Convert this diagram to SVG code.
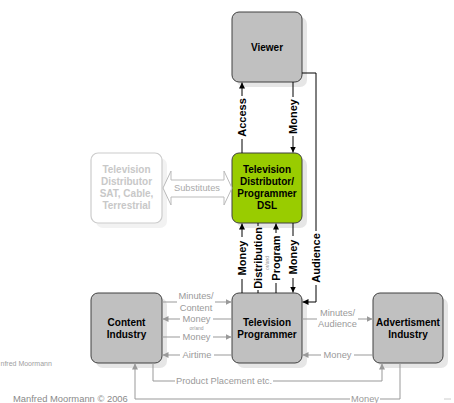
<svg xmlns="http://www.w3.org/2000/svg" width="454" height="403" viewBox="0 0 454 403">
<style>
.sh{fill:#e6e6e6}
.bx{fill:#c0c0c0;stroke:#404040;stroke-width:1}
.gr{fill:#99cc00;stroke:#404040;stroke-width:1}
.gh{fill:#ffffff;stroke:#cccccc;stroke-width:1.2}
.t{font-family:"Liberation Sans",Arial,sans-serif;font-size:10px;font-weight:bold;fill:#000;text-anchor:middle}
.tg{font-family:"Liberation Sans",Arial,sans-serif;font-size:10px;font-weight:bold;fill:#c8c8c8;text-anchor:middle}
.vl{font-family:"Liberation Sans",Arial,sans-serif;font-size:11px;font-weight:bold;fill:#000;text-anchor:middle}
.hl{font-family:"Liberation Sans",Arial,sans-serif;font-size:9.3px;fill:#9a9a9a;text-anchor:middle}
.tiny{font-family:"Liberation Sans",Arial,sans-serif;font-size:5px;fill:#999;text-anchor:middle}
.bk{fill:none;stroke:#000;stroke-width:1}
.gy{fill:none;stroke:#999;stroke-width:1}
</style>
<defs>
<marker id="ab" markerUnits="userSpaceOnUse" markerWidth="6" markerHeight="6" refX="6" refY="3" orient="auto"><path d="M0,0 L6,3 L0,6 z" fill="#000"/></marker>
<marker id="ag" markerUnits="userSpaceOnUse" markerWidth="6" markerHeight="6" refX="6" refY="3" orient="auto"><path d="M0,0 L6,3 L0,6 z" fill="#999"/></marker>
</defs>

<g id="viewer">
<rect class="sh" x="237" y="17" width="70" height="70" rx="7"/>
<rect class="bx" x="232" y="12" width="70" height="70" rx="7"/>
<text class="t" x="267" y="50.5">Viewer</text>
</g>

<g id="distributor-dsl">
<rect class="sh" x="237" y="158" width="70" height="70" rx="7"/>
<rect class="gr" x="232" y="153" width="70" height="70" rx="7"/>
<text class="t" x="267" y="172.6">Television</text>
<text class="t" x="267" y="184.6">Distributor/</text>
<text class="t" x="267" y="196.6">Programmer</text>
<text class="t" x="267" y="208.6">DSL</text>
</g>

<g id="distributor-sat">
<rect class="sh" x="96" y="158" width="71" height="70" rx="7" style="fill:#f2f2f2"/>
<rect class="gh" x="91" y="153" width="71" height="70" rx="7"/>
<text class="tg" x="126.5" y="172.6">Television</text>
<text class="tg" x="126.5" y="184.6">Distributor</text>
<text class="tg" x="126.5" y="196.6">SAT, Cable,</text>
<text class="tg" x="126.5" y="208.6">Terrestrial</text>
</g>

<g id="content-industry">
<rect class="sh" x="96" y="298" width="71" height="70" rx="7"/>
<rect class="bx" x="91" y="293" width="71" height="70" rx="7"/>
<text class="t" x="126.5" y="325.6">Content</text>
<text class="t" x="126.5" y="337.6">Industry</text>
</g>

<g id="tv-programmer">
<rect class="sh" x="237" y="298" width="70" height="70" rx="7"/>
<rect class="bx" x="232" y="293" width="70" height="70" rx="7"/>
<text class="t" x="267" y="325.6">Television</text>
<text class="t" x="267" y="337.6">Programmer</text>
</g>

<g id="advertisment-industry">
<rect class="sh" x="378" y="298" width="70" height="70" rx="7"/>
<rect class="bx" x="373" y="293" width="70" height="70" rx="7"/>
<text class="t" x="408" y="325.6">Advertisment</text>
<text class="t" x="408" y="337.6">Industry</text>
</g>

<g id="connectors">
<!-- Substitutes double arrow -->
<polygon points="163,188 171,171 171,180 224,180 224,171 232,188 224,205 224,197 171,197 171,205" fill="#fff" stroke="#bbbbbb" stroke-width="1"/>
<text class="hl" x="197" y="191.3" style="fill:#aaa">Substitutes</text>

<!-- Access -->
<path class="bk" d="M242,153 V139"/>
<path class="bk" d="M242,96 V82.5" marker-end="url(#ab)"/>
<text class="vl" transform="translate(242,117.5) rotate(-90)" dy="4">Access</text>
<!-- Money viewer -> distributor -->
<path class="bk" d="M293,82 V97"/>
<path class="bk" d="M293,136 V152.5" marker-end="url(#ab)"/>
<text class="vl" transform="translate(293,116.5) rotate(-90)" dy="4">Money</text>
<!-- Audience -->
<path class="bk" d="M302,73 H316 V231"/>
<path class="bk" d="M316,285 V302 H302.5" marker-end="url(#ab)"/>
<text class="vl" transform="translate(316,258) rotate(-90)" dy="4">Audience</text>

<!-- Money up (programmer -> distributor) -->
<path class="bk" d="M242,293 V279"/>
<path class="bk" d="M242,237 V223.5" marker-end="url(#ab)"/>
<text class="vl" transform="translate(242,258) rotate(-90)" dy="4">Money</text>
<!-- Distribution -->
<path class="bk" d="M258,223 V226"/>
<path class="bk" d="M258,290 V293"/>
<text class="vl" transform="translate(258,258) rotate(-90)" dy="4">Distribution</text>
<text class="tiny" transform="translate(267,263) rotate(-90)" dy="1.8">or/and</text>
<!-- Program -->
<path class="bk" d="M276,293 V283"/>
<path class="bk" d="M276,233 V223.5" marker-end="url(#ab)"/>
<text class="vl" transform="translate(276,258) rotate(-90)" dy="4">Program</text>
<!-- Money down -->
<path class="bk" d="M293,223 V236"/>
<path class="bk" d="M293,278 V292.5" marker-end="url(#ab)"/>
<text class="vl" transform="translate(293,257) rotate(-90)" dy="4">Money</text>

<!-- Minutes/Content -->
<path class="gy" d="M162,302 H177"/>
<path class="gy" d="M215,302 H231.5" marker-end="url(#ag)"/>
<text class="hl" x="196" y="299.3">Minutes/</text>
<text class="hl" x="196" y="310.8">Content</text>
<!-- Money left -->
<path class="gy" d="M232,319 H213"/>
<path class="gy" d="M180,319 H162.5" marker-end="url(#ag)"/>
<text class="hl" x="196.5" y="322.3">Money</text>
<text class="tiny" x="196.5" y="329.8">or/and</text>
<!-- Money right -->
<path class="gy" d="M162,337 H180"/>
<path class="gy" d="M213,337 H231.5" marker-end="url(#ag)"/>
<text class="hl" x="196.5" y="340.3">Money</text>
<!-- Airtime -->
<path class="gy" d="M232,355 H214"/>
<path class="gy" d="M180,355 H162.5" marker-end="url(#ag)"/>
<text class="hl" x="197" y="358.3">Airtime</text>
<!-- Minutes/Audience -->
<path class="gy" d="M302,319 H317"/>
<path class="gy" d="M358,319 H372.5" marker-end="url(#ag)"/>
<text class="hl" x="337.5" y="316.3">Minutes/</text>
<text class="hl" x="337.5" y="327.3">Audience</text>
<!-- Money advert -> programmer -->
<path class="gy" d="M373,355 H354"/>
<path class="gy" d="M321,355 H302.5" marker-end="url(#ag)"/>
<text class="hl" x="337.5" y="358.3">Money</text>
<!-- Product Placement -->
<path class="gy" d="M153,363 V381 H175"/>
<path class="gy" d="M273,381 H382 V363.5" marker-end="url(#ag)"/>
<text class="hl" x="224" y="384.3">Product Placement etc.</text>
<!-- Money bottom -->
<path class="gy" d="M400,363 V399 H380"/>
<path class="gy" d="M350,399 H135 V363.5" marker-end="url(#ag)"/>
<text class="hl" x="365" y="402.3">Money</text>
</g>

<g id="footer">
<text x="13" y="401.5" style="font-family:'Liberation Sans',Arial,sans-serif;font-size:9.4px;fill:#8a8a8a">Manfred Moormann © 2006</text>
<text x="0.5" y="365.5" style="font-family:'Liberation Sans',Arial,sans-serif;font-size:7px;fill:#a0a0a0">nfred Moormann</text>
<line x1="444" y1="399" x2="451" y2="399" stroke="#cccccc" stroke-width="1"/>
</g>
</svg>
